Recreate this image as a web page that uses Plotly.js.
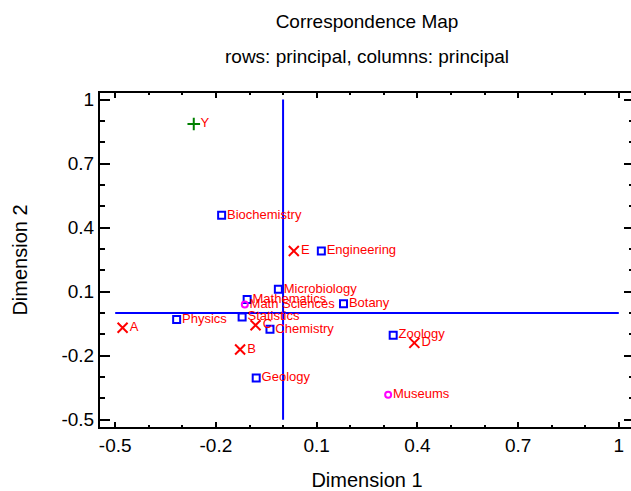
<!DOCTYPE html>
<html>
<head>
<meta charset="utf-8">
<script src="https://cdn.plot.ly/plotly-3.0.1.min.js"></script>
<style>
html, body { margin:0; padding:0; overflow:hidden; width:631px; height:491px; background:#fff; }
#chart { width:640px; height:491px; }
</style>
</head>
<body>
<div id="chart"></div>
<script>
// Row points (disciplines)
const rowLabels = ["Geology","Biochemistry","Chemistry","Zoology","Physics","Engineering","Microbiology","Botany","Statistics","Mathematics"];
const rowDim1 = [-0.080, -0.183, -0.039, 0.328, -0.317, 0.114, -0.014, 0.180, -0.122, -0.107];
const rowDim2 = [-0.304, 0.458, -0.076, -0.104, -0.030, 0.291, 0.111, 0.043, -0.018, 0.064];
// Column points (funding categories)
const colLabels = ["A","B","C","D","E"];
const colDim1 = [-0.478, -0.128, -0.082, 0.391, 0.032];
const colDim2 = [-0.069, -0.171, -0.057, -0.140, 0.291];
// Supplementary rows
const supRowLabels = ["Museums","Math Sciences"];
const supRowDim1 = [0.313, -0.114];
const supRowDim2 = [-0.383, 0.040];
// Supplementary column
const supColLabels = ["Y"];
const supColDim1 = [-0.266];
const supColDim2 = [0.886];
// Reference axes through the origin
const refV_x = [0, 0], refV_y = [-0.5, 1];
const refH_x = [-0.5, 1], refH_y = [0, 0];

const FONT = "Arial, 'Liberation Sans', sans-serif";
const labelFont = {family: FONT, size: 13, color: "#ff0000"};

const traces = [
  {x: refV_x, y: refV_y, mode: "lines", line: {color: "#0000ff", width: 2}, hoverinfo: "skip"},
  {x: refH_x, y: refH_y, mode: "lines", line: {color: "#0000ff", width: 2}, hoverinfo: "skip"},
  {x: rowDim1, y: rowDim2, text: rowLabels, mode: "markers+text", textposition: "middle right",
   textfont: labelFont, marker: {symbol: "square-open", size: 7, color: "#0000ff", line: {width: 2, color: "#0000ff"}}},
  {x: colDim1, y: colDim2, text: colLabels, mode: "markers+text", textposition: "middle right",
   textfont: labelFont, marker: {symbol: "x-thin-open", size: 10, color: "#ff0000", line: {width: 2, color: "#ff0000"}}},
  {x: supRowDim1, y: supRowDim2, text: supRowLabels, mode: "markers+text", textposition: "middle right",
   textfont: labelFont, marker: {symbol: "circle-open", size: 6, color: "#ff00ff", line: {width: 2, color: "#ff00ff"}}},
  {x: supColDim1, y: supColDim2, text: supColLabels, mode: "markers+text", textposition: "middle right",
   textfont: labelFont, marker: {symbol: "cross-thin-open", size: 9, color: "#008000", line: {width: 2, color: "#008000"}}}
];

const layout = {
  width: 640, height: 491,
  margin: {l: 100, r: 6, t: 93, b: 64},
  paper_bgcolor: "#fff", plot_bgcolor: "#fff",
  showlegend: false,
  font: {family: FONT, color: "#000"},
  title: {text: "Correspondence Map", font: {family: FONT, size: 19, color: "#000"},
          x: 0.5, xref: "paper", xanchor: "center", y: 1 - 21 / 491, yref: "container", yanchor: "middle"},
  annotations: [{text: "rows: principal, columns: principal", xref: "paper", yref: "paper",
                 x: 0.5, y: 1 + (93 - 56) / 334, xanchor: "center", yanchor: "middle", showarrow: false,
                 font: {family: FONT, size: 19, color: "#000"}}],
  xaxis: {
    range: [-0.5453, 1.0453], tickvals: [-0.5, -0.2, 0.1, 0.4, 0.7, 1],
    ticktext: ["-0.5", "-0.2", "0.1", "0.4", "0.7", "1"],
    ticks: "inside", ticklen: 5, tickwidth: 2, tickcolor: "#000",
    minor: {dtick: 0.1, tick0: -0.5, ticks: "inside", ticklen: 2, tickwidth: 2, tickcolor: "#000"},
    showline: true, linecolor: "#000", linewidth: 2, mirror: "allticks",
    showgrid: false, zeroline: false,
    tickfont: {family: FONT, size: 19, color: "#000"},
    title: {text: "Dimension 1", font: {family: FONT, size: 20, color: "#000"}, standoff: 19},
    automargin: false
  },
  yaxis: {
    range: [-0.534, 1.031], tickvals: [-0.5, -0.2, 0.1, 0.4, 0.7, 1],
    ticktext: ["-0.5", "-0.2", "0.1", "0.4", "0.7", "1"],
    ticks: "inside", ticklen: 10, tickwidth: 2, tickcolor: "#000",
    minor: {dtick: 0.1, tick0: -0.5, ticks: "inside", ticklen: 5, tickwidth: 2, tickcolor: "#000"},
    showline: true, linecolor: "#000", linewidth: 2, mirror: "allticks",
    showgrid: false, zeroline: false,
    tickfont: {family: FONT, size: 19, color: "#000"},
    title: {text: "Dimension 2", font: {family: FONT, size: 20, color: "#000"}, standoff: 28},
    automargin: false
  }
};

Plotly.newPlot("chart", traces, layout, {displayModeBar: false, staticPlot: true});
</script>
</body>
</html>
